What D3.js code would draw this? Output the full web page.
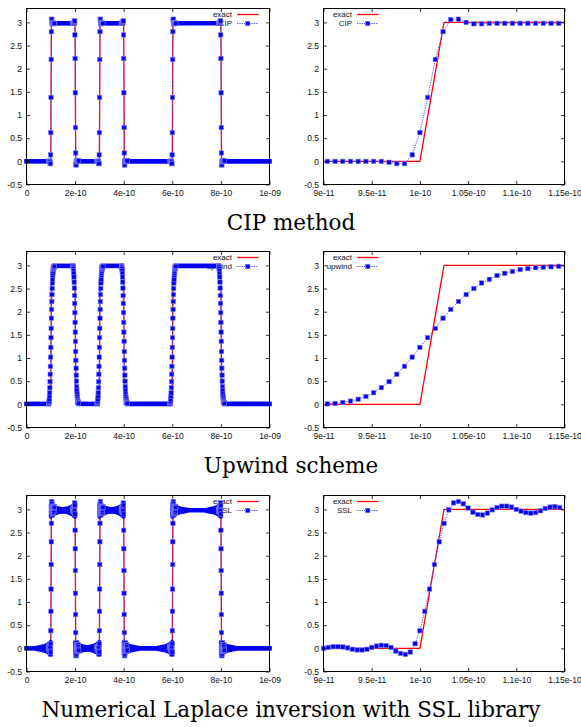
<!DOCTYPE html>
<html lang="en">
<head>
<meta charset="utf-8">
<title>CIP / upwind / SSL comparison</title>
<script src="https://d3js.org/d3.v7.min.js"></script>
<style>
	body {margin:0; background:#fff;}
	svg {display:block;}
	.lbl {font-family:"Liberation Sans", Arial, sans-serif; font-size:8.5px; fill:#111;}
	.key {font-family:"Liberation Sans", Arial, sans-serif; font-size:8px; fill:#111;}
	.caption {font-family:"DejaVu Serif", serif; font-size:21.5px; fill:#000;}
</style>
</head>
<body>
<div id="chart"></div>
<script>
// x values are in units of 1e-12 s
const edgeX = [100, 200, 300, 400, 600, 800];
const edgeRising = [true, false, true, false, true, false];
const exactX = [0, 100, 102.5, 200, 202.5, 300, 302.5, 400, 402.5, 600, 602.5, 800, 802.5, 1000];
const exactY = [0, 0, 3, 3, 0, 0, 3, 3, 0, 0, 3, 3, 0, 0];

// sample points shown in the zoomed panels (CIP and upwind share the grid)
const gridX = [90.4, 91.2, 92.0, 92.8, 93.6, 94.4, 95.2, 96.0, 96.8, 97.6, 98.4, 99.2, 100.0, 100.8, 101.6,
	102.4, 103.2, 104.0, 104.8, 105.6, 106.4, 107.2, 108.0, 108.8, 109.6, 110.4, 111.2, 112.0, 112.8, 113.6, 114.4];
const cipY = [0, 0, 0, 0, 0, 0, 0, 0, -0.02, -0.05, -0.05, 0.14, 0.62, 1.38, 2.2, 2.8, 3.06, 3.07, 3.0, 2.97,
	2.97, 2.98, 2.98, 2.98, 2.98, 2.98, 2.98, 2.98, 2.98, 2.98, 2.98];
const cipFallY = [2.98, 2.98, 2.98, 2.98, 2.98, 2.98, 2.98, 2.98, 3.0, 3.03, 3.03, 2.73, 2.22, 1.48, 0.73, 0.18,
	-0.06, -0.08, -0.01, 0.02, 0.02, 0.01, 0.01, 0.01, 0.01, 0.01, 0.01, 0.01, 0.01, 0.01, 0.01];
const upwindY = [0.01, 0.02, 0.04, 0.07, 0.11, 0.17, 0.25, 0.36, 0.49, 0.65, 0.82, 1.02, 1.23, 1.44, 1.64, 1.86,
	2.05, 2.22, 2.37, 2.5, 2.62, 2.7, 2.78, 2.83, 2.87, 2.91, 2.93, 2.95, 2.96, 2.97, 2.98];
const upwindFallY = [2.99, 2.98, 2.96, 2.93, 2.89, 2.83, 2.75, 2.64, 2.51, 2.35, 2.18, 1.98, 1.77, 1.56, 1.36, 1.14,
	0.95, 0.78, 0.63, 0.5, 0.38, 0.3, 0.22, 0.17, 0.13, 0.09, 0.07, 0.05, 0.04, 0.03, 0.02];
const sslX = [90.0, 90.5, 91.0, 91.5, 92.0, 92.5, 93.0, 93.5, 94.0, 94.5, 95.0, 95.5, 96.0, 96.5, 97.0, 97.5,
	98.0, 98.5, 99.0, 99.5, 100.0, 100.5, 101.0, 101.5, 102.0, 102.5, 103.0, 103.5, 104.0, 104.5, 105.0, 105.5,
	106.0, 106.5, 107.0, 107.5, 108.0, 108.5, 109.0, 109.5, 110.0, 110.5, 111.0, 111.5, 112.0, 112.5, 113.0,
	113.5, 114.0, 114.5];
const sslY = [0.0, 0.02, 0.035, 0.035, 0.03, 0.01, -0.02, -0.035, -0.035, -0.02, 0.02, 0.05, 0.065, 0.06, 0.02,
	-0.06, -0.11, -0.13, -0.08, 0.1, 0.38, 0.8, 1.28, 1.81, 2.3, 2.7, 2.99, 3.14, 3.17, 3.12, 3.03, 2.94, 2.89,
	2.88, 2.92, 2.99, 3.04, 3.07, 3.07, 3.05, 3.0, 2.96, 2.93, 2.92, 2.93, 2.97, 3.02, 3.05, 3.06, 3.04];
const sslFallY = [3.0, 2.98, 2.97, 2.97, 2.97, 2.99, 3.02, 3.04, 3.04, 3.02, 2.98, 2.95, 2.94, 2.94, 2.98, 3.06,
	3.11, 3.14, 3.09, 2.9, 2.55, 2.15, 1.68, 1.19, 0.73, 0.34, 0.02, -0.12, -0.16, -0.12, -0.03, 0.06, 0.11, 0.12,
	0.08, 0.01, -0.04, -0.07, -0.07, -0.05, 0.0, 0.04, 0.07, 0.08, 0.07, 0.03, -0.02, -0.05, -0.06, -0.04];
// SSL ringing envelope around each jump: distance from the jump and half height
const sslEnvD = [0, 5, 10, 20, 30, 45, 60];
const sslEnvA = [0.14, 0.12, 0.09, 0.065, 0.045, 0.03, 0.015];

const cipPlateau = [0, 2.98];
const upwindPlateau = [0.01, 2.99];
const sslPlateau = [0, 2.98];

const fullTicks = [0, 200, 400, 600, 800, 1000];
const fullTickLabels = ["0", "2e-10", "4e-10", "6e-10", "8e-10", "1e-09"];
const zoomTicks = [90, 95, 100, 105, 110, 115];
const zoomTickLabels = ["9e-11", "9.5e-11", "1e-10", "1.05e-10", "1.1e-10", "1.15e-10"];
const yTicks = [-0.5, 0, 0.5, 1, 1.5, 2, 2.5, 3];
const yTickLabels = ["-0.5", "0", "0.5", "1", "1.5", "2", "2.5", "3"];
const seriesNames = ["CIP", "upwind", "SSL"];
const captions = ["CIP method", "Upwind scheme", "Numerical Laplace inversion with SSL library"];

const plotH = 176;
const rowTop = [8.5, 251.5, 495.5];
const blue = "#0000f2";

var svg = d3.select("#chart").append("svg").attr("width", 581).attr("height", 727);

var methods = [
	{x: gridX, rise: cipY, fall: cipFallY, plateau: cipPlateau, env: false},
	{x: gridX, rise: upwindY, fall: upwindFallY, plateau: upwindPlateau, env: false},
	{x: sslX, rise: sslY, fall: sslFallY, plateau: sslPlateau, env: true}
];

// left panel: each jump is drawn with the read profile, flat parts as a dense band of points
function buildFull(m) {
	var pts = [[0, m.plateau[0]]], bands = [], marks = [], envs = [];
	var prevEnd = 0, level = m.plateau[0];
	edgeX.forEach(function (e, i) {
		var vals = edgeRising[i] ? m.rise : m.fall;
		var prof = m.x.map(function (x, j) { return [e + x - 100, vals[j]]; });
		bands.push([[prevEnd, level], [prof[0][0], level]]);
		var after = edgeRising[i] ? m.plateau[1] : m.plateau[0];
		if (m.env) {
			envs.push(sslEnvD.slice().reverse().map(function (d, j) { return [e - d, level, sslEnvA[sslEnvD.length - 1 - j]]; }));
			envs.push(sslEnvD.map(function (d, j) { return [e + d, after, sslEnvA[j]]; }));
		}
		pts = pts.concat(prof);
		marks = marks.concat(prof);
		prevEnd = prof[prof.length - 1][0];
		level = after;
	});
	bands.push([[prevEnd, level], [1000, level]]);
	pts.push([1000, level]);
	return {pts: pts, bands: bands, marks: marks, envs: envs};
}

function drawPanel(row, zoomed) {
	var m = methods[row];
	var left = zoomed ? 323.5 : 26.5, right = zoomed ? 564.5 : 269.5;
	var top = rowTop[row], bottom = top + plotH;
	var xs = d3.scaleLinear().domain(zoomed ? [90, 115] : [0, 1000]).range([left, right]);
	var ys = d3.scaleLinear().domain([-0.5, 3.3]).range([bottom, top]);
	var line = d3.line().x(function (d) { return xs(d[0]); }).y(function (d) { return ys(d[1]); });
	var g = svg.append("g");
	var clipId = "clip" + row + (zoomed ? "z" : "f");
	g.append("clipPath").attr("id", clipId).append("rect")
		.attr("x", left).attr("y", top).attr("width", right - left).attr("height", plotH);

	// key (drawn before the data, as gnuplot does)
	var textEnd = zoomed ? left + 28.5 : right - 37.5;
	var sx0 = zoomed ? left + 33.5 : right - 32.5, sx1 = zoomed ? left + 55 : right - 11;
	var ky = [top + 6, top + 15];
	g.append("text").attr("class", "key").attr("x", textEnd).attr("y", ky[0] + 2.8)
		.attr("text-anchor", "end").text("exact");
	g.append("line").attr("x1", sx0).attr("x2", sx1).attr("y1", ky[0]).attr("y2", ky[0])
		.attr("stroke", "#ff0000").attr("stroke-width", 1.3);
	g.append("text").attr("class", "key").attr("x", textEnd).attr("y", ky[1] + 2.8)
		.attr("text-anchor", "end").text(seriesNames[row]);
	g.append("line").attr("x1", sx0).attr("x2", sx1).attr("y1", ky[1]).attr("y2", ky[1])
		.attr("stroke", "#4a4aff").attr("stroke-width", 1).attr("stroke-dasharray", "1.2,1.2");
	g.append("rect").attr("x", (sx0 + sx1) / 2 - 2.2).attr("y", ky[1] - 2.2).attr("width", 4.4).attr("height", 4.4)
		.attr("fill", blue).attr("stroke", "#7a7aff").attr("stroke-width", 0.6);

	// exact solution
	g.append("path").datum(d3.zip(exactX, exactY)).attr("d", line)
		.attr("clip-path", "url(#" + clipId + ")")
		.attr("fill", "none").attr("stroke", "#ff0000").attr("stroke-width", 1.3);

	var pts, marks;
	if (zoomed) {
		pts = d3.zip(m.x, m.rise);
		marks = pts;
	} else {
		var full = buildFull(m);
		pts = full.pts;
		marks = full.marks;
	}
	g.append("path").datum(pts).attr("d", line)
		.attr("clip-path", "url(#" + clipId + ")")
		.attr("fill", "none").attr("stroke", "#4a4aff").attr("stroke-width", 1)
		.attr("stroke-dasharray", "1.2,1.2");

	if (!zoomed) {
		g.selectAll(".band").data(full.bands).enter().append("path").attr("class", "band")
			.attr("d", line).attr("fill", "none").attr("stroke", blue).attr("stroke-width", 4.6)
			.attr("stroke-linecap", "square");
		var area = d3.area().x(function (d) { return xs(d[0]); })
			.y0(function (d) { return ys(d[1] - d[2]); })
			.y1(function (d) { return ys(d[1] + d[2]); });
		g.selectAll(".env").data(full.envs).enter().append("path").attr("class", "env")
			.attr("d", area).attr("fill", blue).attr("stroke", blue).attr("stroke-width", 4)
			.attr("stroke-linejoin", "round");
	}

	g.selectAll(".pt").data(marks).enter().append("rect").attr("class", "pt")
		.attr("x", function (d) { return xs(d[0]) - 2.2; })
		.attr("y", function (d) { return ys(d[1]) - 2.2; })
		.attr("width", 4.4).attr("height", 4.4)
		.attr("fill", blue).attr("stroke", "#7a7aff").attr("stroke-width", 0.6);

	// axes with mirrored inward ticks
	var ticks = zoomed ? zoomTicks : fullTicks;
	var tickLabels = zoomed ? zoomTickLabels : fullTickLabels;
	var axes = [
		g.append("g").attr("transform", "translate(0," + bottom + ")")
			.call(d3.axisBottom(xs).tickValues(ticks).tickFormat(function (d, i) { return tickLabels[i]; })
				.tickSize(-3.5).tickPadding(5)),
		g.append("g").attr("transform", "translate(0," + top + ")")
			.call(d3.axisTop(xs).tickValues(ticks).tickFormat("").tickSize(-3.5)),
		g.append("g").attr("transform", "translate(" + left + ",0)")
			.call(d3.axisLeft(ys).tickValues(yTicks).tickFormat(function (d, i) { return yTickLabels[i]; })
				.tickSize(-3.5).tickPadding(4.5)),
		g.append("g").attr("transform", "translate(" + right + ",0)")
			.call(d3.axisRight(ys).tickValues(yTicks).tickFormat("").tickSize(-3.5))
	];
	axes.forEach(function (a) {
		a.select(".domain").remove();
		a.attr("font-family", null).attr("font-size", null);
		a.selectAll("text").attr("class", "lbl");
		a.selectAll("line").attr("stroke", "#000").attr("stroke-width", 0.8);
	});
	g.append("rect").attr("x", left).attr("y", top).attr("width", right - left).attr("height", plotH)
		.attr("fill", "none").attr("stroke", "#000").attr("stroke-width", 1);
}

for (var r = 0; r < 3; r++) {
	drawPanel(r, false);
	drawPanel(r, true);
	svg.append("text").attr("class", "caption").attr("x", 291).attr("y", rowTop[r] + plotH + 45)
		.attr("text-anchor", "middle").text(captions[r]);
}
</script>
</body>
</html>
